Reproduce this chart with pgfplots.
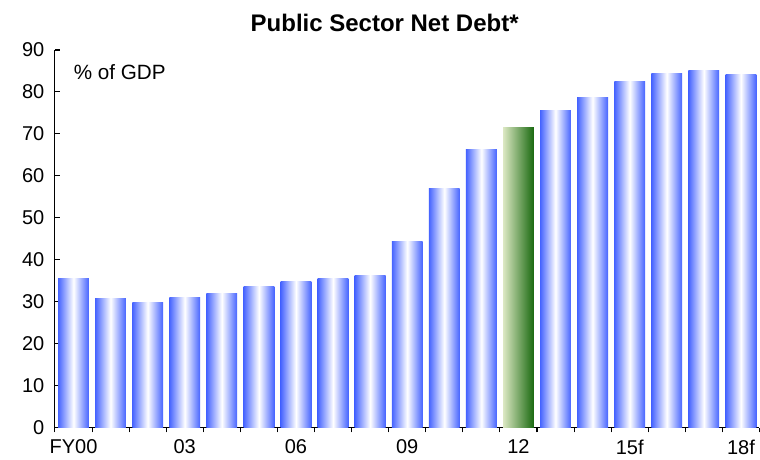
\documentclass[border=0pt]{standalone}
\usepackage{pgfplots}
\pgfplotsset{compat=1.18}
\usepackage{fontspec}
\setmainfont{Liberation Sans}
\definecolor{barblue}{RGB}{70,100,255}
\definecolor{lgreen}{RGB}{220,232,195}
\definecolor{dgreen}{RGB}{25,105,15}
\begin{document}
\begin{tikzpicture}
\begin{axis}[
  scale only axis,
  width=528.75pt, height=283.5pt,
  xmin=-0.5, xmax=18.5,
  ymin=0, ymax=90,
  axis lines=left,
  axis line style={-, black, line width=0.8pt},
  xtick={0,3,6,9,12,15,18},
  xticklabels={FY00,03,06,09,12,15f,18f},
  minor xtick={-0.5,0.5,...,18.5},
  major x tick style={draw=none},
  minor x tick style={black, line width=0.8pt},
  ytick={0,10,...,90},
  y tick style={black, line width=0.8pt, xshift=3.5pt},
  tick align=outside,
  major tick length=3.5pt,
  minor tick length=3.5pt,
  tick label style={font=\fontsize{15}{17}\selectfont},
  /pgf/number format/assume math mode=true,
  xticklabel style={yshift=-2pt},
  yticklabel style={xshift=-1pt},
  title={\bfseries Public Sector Net Debt*},
  title style={font=\fontsize{18}{20}\selectfont, at={(0.468,1)}, yshift=4pt},
  bar width=0.83,
  clip=false,
  bb/.style={ybar, bar shift=0pt, draw=none, left color=barblue, right color=barblue, middle color=white},
  gb/.style={ybar, bar shift=0pt, draw=none, left color=lgreen, right color=dgreen},
]
\addplot[bb] coordinates {(0,35.5)};
\addplot[bb] coordinates {(1,30.7)};
\addplot[bb] coordinates {(2,29.8)};
\addplot[bb] coordinates {(3,31.0)};
\addplot[bb] coordinates {(4,31.9)};
\addplot[bb] coordinates {(5,33.6)};
\addplot[bb] coordinates {(6,34.8)};
\addplot[bb] coordinates {(7,35.5)};
\addplot[bb] coordinates {(8,36.2)};
\addplot[bb] coordinates {(9,44.3)};
\addplot[bb] coordinates {(10,56.9)};
\addplot[bb] coordinates {(11,66.4)};
\addplot[gb] coordinates {(12,71.5)};
\addplot[bb] coordinates {(13,75.6)};
\addplot[bb] coordinates {(14,78.7)};
\addplot[bb] coordinates {(15,82.6)};
\addplot[bb] coordinates {(16,84.5)};
\addplot[bb] coordinates {(17,85.2)};
\addplot[bb] coordinates {(18,84.2)};
\node[anchor=west, font=\fontsize{15.5}{17}\selectfont] at (rel axis cs:0.02,0.942) {\% of GDP};
\end{axis}
\path (current axis.south west) ++(-41.25pt,-24pt) rectangle ++(570pt,345pt);
\end{tikzpicture}
\end{document}
